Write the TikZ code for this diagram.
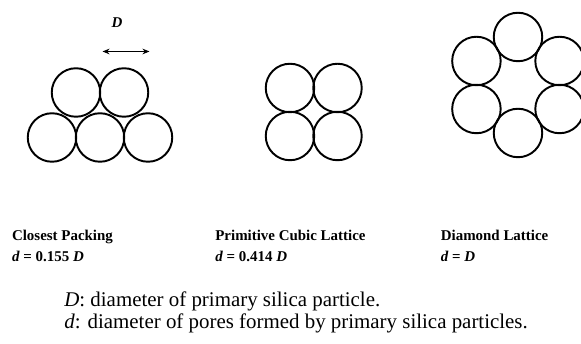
\documentclass[tikz,border=0pt]{standalone}
\usepackage{fontspec}
\setmainfont{Liberation Serif}
\usetikzlibrary{arrows.meta, positioning, calc}

\begin{document}
\begin{tikzpicture}[
      particle/.style={draw, circle, line width=1.1pt, minimum size=0.97cm, inner sep=0pt},
      dimarr/.style={{Stealth[length=4pt, width=3.2pt]}-{Stealth[length=4pt, width=3.2pt]}, line width=0.5pt},
      lbl/.style={font=\fontsize{8.5}{10}\selectfont\bfseries, anchor=base west, inner sep=0pt},
      note/.style={font=\fontsize{11.9}{14}\selectfont, anchor=base west, inner sep=0pt}]

    \useasboundingbox (0,0) rectangle (11.62,6.88);

    % ============================================
    % Closest packing
    % ============================================
    \node[particle] (cp1) at (1.04, 4.13) {};
    \node[particle] (cp2) at (2.00, 4.13) {};
    \node[particle] (cp3) at (2.96, 4.13) {};
    \node[particle] (cp4) at (1.52, 5.03) {};
    \node[particle] (cp5) at (2.48, 5.03) {};

    % particle diameter
    \coordinate (dl) at (2.05, 5.85);
    \coordinate (dr) at (2.99, 5.85);
    \draw[dimarr] (dl) -- (dr);
    \node[font=\fontsize{8.5}{10}\selectfont\bfseries\itshape] (dlab) at (2.34, 6.42) {D};

    % ============================================
    % Primitive cubic lattice
    % ============================================
    \node[particle] (pc1) at (5.80, 5.12) {};
    \node[particle] (pc2) at (6.75, 5.12) {};
    \node[particle] (pc3) at (5.80, 4.16) {};
    \node[particle] (pc4) at (6.75, 4.16) {};

    % ============================================
    % Diamond lattice
    % ============================================
    \coordinate (dc) at (10.36, 5.18);
    \foreach \a [count=\i] in {90, 30, -30, -90, -150, 150} {
        \node[particle] (dm\i) at ($(dc)+(\a:0.96)$) {};
    }

    % labels
    \node[lbl] (cplab) at (0.234, 2.06) {Closest Packing};
    \node[lbl] (cpval) at (0.234, 1.65) {\textit{d} = 0.155 \textit{D}};
    \node[lbl] (pclab) at (4.30, 2.06) {Primitive Cubic Lattice};
    \node[lbl] (pcval) at (4.30, 1.65) {\textit{d} = 0.414 \textit{D}};
    \node[lbl] (dmlab) at (8.81, 2.06) {Diamond Lattice};
    \node[lbl] (dmval) at (8.81, 1.65) {\textit{d} = \textit{D}};

    % legend
    \node[note] (leg1) at (1.28, 0.74) {\textit{D}: diameter of primary silica particle.};
    \node[note] (leg2) at (1.28, 0.30) {\textit{d}: diameter of pores formed by primary silica particles.};

\end{tikzpicture}
\end{document}
